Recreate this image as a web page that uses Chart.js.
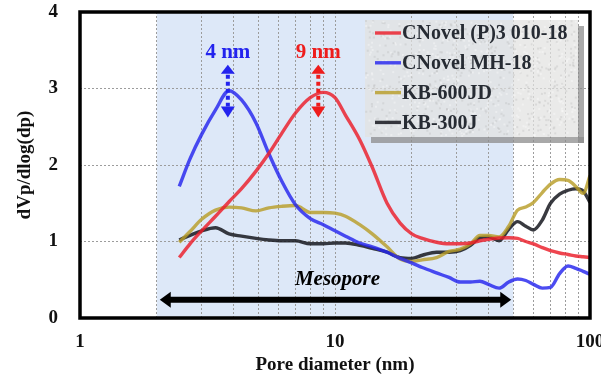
<!DOCTYPE html>
<html><head><meta charset="utf-8">
<script src="https://cdn.jsdelivr.net/npm/chart.js@4/dist/chart.umd.min.js"></script>
<style>html,body{margin:0;padding:0;background:#fff;}#wrap{width:601px;height:377px;}</style>
</head><body><div id="wrap"><canvas id="c" width="601" height="377"></canvas></div>
<script>
// ---- data ----
const poreDiameter = [2.45,2.7,3.0,3.4,3.84,4.3,4.9,5.5,6.2,7.0,8.0,9.0,10,11,12.5,14,16,18,20,22,25,28,31,34,37,40,44,48,52,56,60,65,70,76,82,88,94,100];
const cnovelP3 = [0.79,0.97,1.14,1.33,1.52,1.69,1.92,2.15,2.42,2.68,2.88,2.95,2.88,2.65,2.33,1.97,1.50,1.24,1.10,1.04,0.99,0.97,0.97,0.98,1.01,1.03,1.045,1.05,1.04,1.00,0.97,0.92,0.88,0.85,0.83,0.81,0.80,0.79];
const cnovelMH = [1.72,2.08,2.40,2.72,2.97,2.85,2.55,2.15,1.78,1.48,1.30,1.22,1.14,1.07,0.98,0.93,0.86,0.78,0.72,0.66,0.59,0.53,0.47,0.47,0.48,0.44,0.39,0.47,0.51,0.49,0.44,0.39,0.40,0.58,0.68,0.65,0.61,0.57];
const kb600 = [0.99,1.13,1.29,1.41,1.45,1.44,1.40,1.44,1.46,1.47,1.38,1.38,1.37,1.33,1.22,1.10,0.93,0.77,0.74,0.76,0.79,0.87,0.90,0.97,1.08,1.08,1.06,1.20,1.41,1.45,1.51,1.64,1.75,1.81,1.80,1.72,1.63,1.86];
const kb300 = [1.02,1.08,1.14,1.18,1.10,1.07,1.04,1.02,1.01,1.01,0.97,0.97,0.98,0.98,0.95,0.91,0.86,0.79,0.78,0.82,0.86,0.86,0.88,0.95,1.05,1.06,1.01,1.16,1.26,1.20,1.15,1.28,1.50,1.62,1.67,1.69,1.66,1.51];
const seriesLabels = ['CNovel (P)3 010-18','CNovel MH-18','KB-600JD','KB-300J'];
const seriesColors = ['rgba(236,28,40,0.82)','rgba(36,36,238,0.82)','rgba(184,158,40,0.82)','rgba(22,24,30,0.85)'];
const xGridValues = [1,2,3,4,5,6,7,8,9,10,20,30,40,50,60,70,80,90,100];
const xTickLabels = [1,10,100];
const yTickValues = [0,1,2,3,4];
const mesoporeRange = [2,50];
const peakMarks = [{x:3.8,label:'4 nm',color:'#2323ee'},{x:8.6,label:'9 nm',color:'#ee1c1c'}];

const SERIF = '"Liberation Serif","DejaVu Serif",serif';
const allSeries = [cnovelP3,cnovelMH,kb600,kb300];

const datasets = allSeries.map((s,i)=>({
  label: seriesLabels[i],
  data: poreDiameter.map((x,j)=>({x:x,y:s[j]})),
  borderColor: seriesColors[i],
  backgroundColor: seriesColors[i],
  borderWidth: 3.4,
  pointRadius: 0,
  fill: false,
  cubicInterpolationMode: 'monotone'
}));

function arrowHead(ctx,x,y,dir,len,half){
  ctx.beginPath();
  ctx.moveTo(x,y);
  if(dir==='up'){ctx.lineTo(x-half,y+len);ctx.lineTo(x+half,y+len);}
  else if(dir==='down'){ctx.lineTo(x-half,y-len);ctx.lineTo(x+half,y-len);}
  else if(dir==='left'){ctx.lineTo(x+len,y-half);ctx.lineTo(x+len,y+half);}
  else {ctx.lineTo(x-len,y-half);ctx.lineTo(x-len,y+half);}
  ctx.closePath();ctx.fill();
}
function noPad(s){s.paddingTop=0;s.paddingBottom=0;s.paddingLeft=0;s.paddingRight=0;}

const decor = {
  id:'decor',
  beforeDraw(chart){
    const {ctx,chartArea:a,scales:{x}} = chart;
    ctx.save();
    ctx.fillStyle='#dde8f8';
    const x0=x.getPixelForValue(mesoporeRange[0]), x1=x.getPixelForValue(mesoporeRange[1]);
    ctx.fillRect(x0,a.top,x1-x0,a.bottom-a.top);
    ctx.restore();
  },
  afterDatasetsDraw(chart){
    const {ctx,chartArea:a,scales:{x,y}} = chart;
    ctx.save();
    peakMarks.forEach(m=>{
      const px=x.getPixelForValue(m.x);
      const top=y.getPixelForValue(3.31), bot=y.getPixelForValue(2.62);
      ctx.fillStyle=m.color; ctx.strokeStyle=m.color;
      arrowHead(ctx,px,top,'up',9,7);
      arrowHead(ctx,px,bot,'down',11,7);
      ctx.lineWidth=4; ctx.setLineDash([4,3]);
      ctx.beginPath();ctx.moveTo(px,top+10);ctx.lineTo(px,bot-11);ctx.stroke();
      ctx.setLineDash([]);
      ctx.font='bold 21px '+SERIF; ctx.textAlign='center'; ctx.textBaseline='alphabetic';
      ctx.fillText(m.label,px,y.getPixelForValue(3.4));
    });
    const mx0=x.getPixelForValue(mesoporeRange[0])+3, mx1=x.getPixelForValue(mesoporeRange[1])-2;
    const my=y.getPixelForValue(0.24);
    ctx.fillStyle='#000'; ctx.strokeStyle='#000'; ctx.lineWidth=6;
    ctx.beginPath();ctx.moveTo(mx0+8,my);ctx.lineTo(mx1-8,my);ctx.stroke();
    arrowHead(ctx,mx0,my,'left',11,8);
    arrowHead(ctx,mx1,my,'right',11,8);
    ctx.font='italic bold 21px '+SERIF; ctx.textAlign='center';
    ctx.fillText('Mesopore',(mx0+mx1)/2+2,y.getPixelForValue(0.43));
    ctx.restore();
  },
  afterDraw(chart){
    const {ctx,chartArea:a} = chart;
    ctx.save();
    const L=365,T=20,R=578,B=137;
    ctx.fillStyle='rgba(140,140,140,0.75)';
    ctx.fillRect(R,T+6,6,B-T);
    ctx.fillRect(L+6,B,R-L,6);
    ctx.fillStyle='rgba(226,226,224,0.72)';
    ctx.fillRect(L,T,R-L,B-T);
    for(let i=0;i<900;i++){
      const h=Math.sin(i*12.9898)*43758.5453; const fx=h-Math.floor(h);
      const g=Math.sin(i*78.233)*12345.678; const fy=g-Math.floor(g);
      ctx.fillStyle=(i%2)?'rgba(255,255,255,0.35)':'rgba(170,170,170,0.25)';
      ctx.fillRect(L+fx*(R-L-2),T+fy*(B-T-2),2,2);
    }
    ctx.font='bold 20px '+SERIF; ctx.textBaseline='middle'; ctx.textAlign='left';
    chart.data.datasets.forEach((d,i)=>{
      const ry=33+i*29.8;
      ctx.strokeStyle=seriesColors[i]; ctx.lineWidth=3.4;
      ctx.beginPath();ctx.moveTo(375,ry);ctx.lineTo(401,ry);ctx.stroke();
      ctx.fillStyle='#262b33';
      ctx.fillText(d.label,402,ry+1);
    });
    ctx.strokeStyle='#000'; ctx.lineWidth=3.5;
    ctx.strokeRect(a.left,a.top,a.right-a.left,a.bottom-a.top);
    ctx.restore();
  }
};

new Chart(document.getElementById('c'),{
  type:'line',
  data:{datasets:datasets},
  options:{
    responsive:false, animation:false, devicePixelRatio:1,
    layout:{padding:{top:12,right:11,left:0,bottom:0},autoPadding:false},
    plugins:{legend:{display:false},tooltip:{enabled:false}},
    scales:{
      x:{
        type:'logarithmic', min:1, max:100,
        afterFit(s){s.height=59;noPad(s);},
        afterBuildTicks(s){s.ticks=xGridValues.map(v=>({value:v}));},
        ticks:{autoSkip:false,maxRotation:0,padding:13,color:'#111',
          font:{family:SERIF,weight:'bold',size:19},
          callback(v){return xTickLabels.includes(Math.round(v))&&Math.abs(v-Math.round(v))<1e-6?String(Math.round(v)):'';}},
        grid:{color:'#9c9c9c',lineWidth:1,drawTicks:false},
        border:{display:false,dash:[2,2]},
        title:{display:true,text:'Pore diameter (nm)',color:'#111',font:{family:SERIF,weight:'bold',size:19},padding:{top:0,bottom:1}}
      },
      y:{
        type:'linear', min:0, max:4,
        afterFit(s){s.width=80;noPad(s);},
        afterBuildTicks(s){s.ticks=yTickValues.map(v=>({value:v}));},
        ticks:{padding:22,color:'#111',font:{family:SERIF,weight:'bold',size:19}},
        grid:{color:'#9c9c9c',lineWidth:1,drawTicks:false},
        border:{display:false,dash:[2,2]},
        title:{display:true,text:'dVp/dlog(dp)',color:'#111',font:{family:SERIF,weight:'bold',size:19},padding:{top:14,bottom:0}}
      }
    }
  },
  plugins:[decor]
});
</script></body></html>
